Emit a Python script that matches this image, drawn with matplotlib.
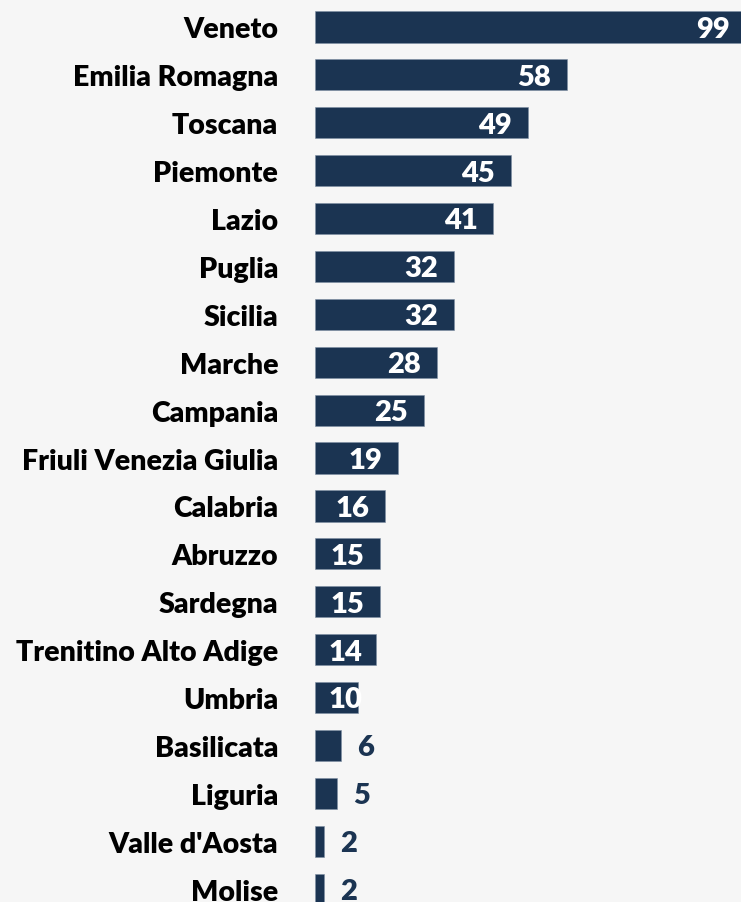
import matplotlib.pyplot as plt

regions = [
    "Veneto", "Emilia Romagna", "Toscana", "Piemonte", "Lazio", "Puglia",
    "Sicilia", "Marche", "Campania", "Friuli Venezia Giulia", "Calabria",
    "Abruzzo", "Sardegna", "Trenitino Alto Adige", "Umbria", "Basilicata",
    "Liguria", "Valle d'Aosta", "Molise",
]
counts = [99, 58, 49, 45, 41, 32, 32, 28, 25, 19, 16, 15, 15, 14, 10, 6, 5, 2, 2]

BG = "#f6f6f6"
NAVY = "#1b3452"
FONT = ["Lato", "DejaVu Sans"]

fig = plt.figure(figsize=(7.41, 9.03), dpi=100, facecolor=BG)
W, H = 741, 903
x0, px_per_unit = 315, 4.345
row = 47.9
top = 4
ax_h = row * len(regions)
ax = fig.add_axes([x0 / W, (H - top - ax_h) / H, (W - x0) / W, ax_h / H])
ax.set_facecolor(BG)

ypos = list(range(len(regions)))
ax.barh(ypos, counts, height=0.65, color=NAVY, edgecolor="#7f8fa3", linewidth=0.4)
ax.set_xlim(0, (W - x0) / px_per_unit)
ax.set_ylim(len(regions) - 0.5, -0.5)

ax.set_yticks(ypos)
ax.set_yticklabels(regions, fontsize=20.5, fontweight="heavy", family=FONT, color="black")
ax.tick_params(axis="y", length=0, pad=26.5)
ax.set_xticks([])
for s in ax.spines.values():
    s.set_visible(False)

for y, v in zip(ypos, counts):
    if v >= 10:
        ax.text(max(v - 3.6, 11), y + 0.04, str(v), ha="right", va="center",
                fontsize=21, fontweight="heavy", family=FONT, color="white")
    else:
        ax.text(v + 3.7, y + 0.04, str(v), ha="left", va="center",
                fontsize=21, fontweight="heavy", family=FONT, color=NAVY)

fig.savefig("out.png", dpi=100, facecolor=BG)
